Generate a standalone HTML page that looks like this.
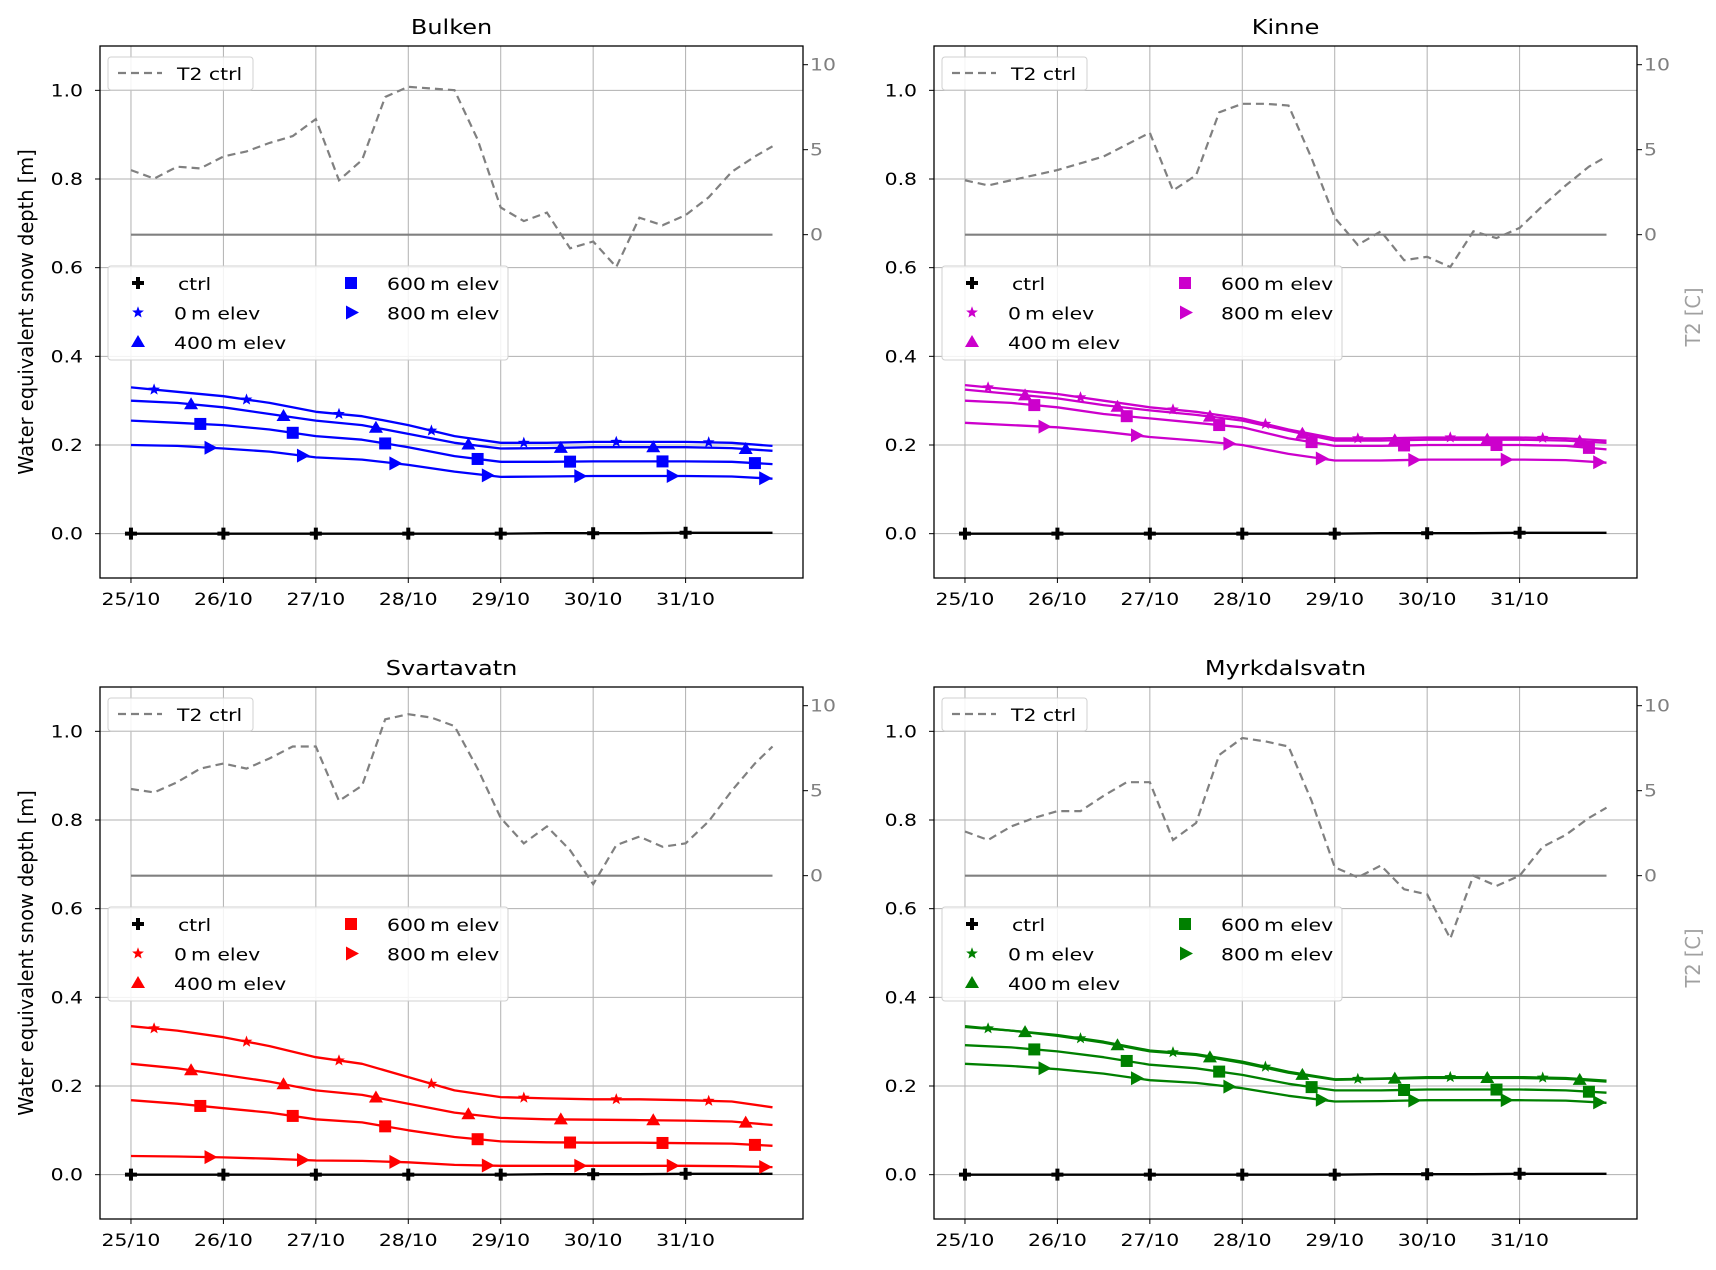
<!DOCTYPE html>
<html><head><meta charset="utf-8">
<style>
body{margin:0;background:#fff;overflow:hidden;}
svg{display:block;font-family:"DejaVu Sans","Liberation Sans",sans-serif;}
</style></head>
<body>
<svg id="fig" width="1716" height="1270" viewBox="0 0 1716 1270" xmlns="http://www.w3.org/2000/svg"></svg>
<script>
// ---- data ----
const panelNames = ["Bulken", "Kinne", "Svartavatn", "Myrkdalsvatn"];
const panelColors = ["#0000ff", "#cc00cc", "#ff0000", "#008000"];
const xTickLabels = ["25/10","26/10","27/10","28/10","29/10","30/10","31/10"];
const yTickLabels = ["0.0","0.2","0.4","0.6","0.8","1.0"];
const t2TickLabels = ["0","5","10"];
const seriesLabels = ["ctrl","0\u2009m elev","400\u2009m elev","600\u2009m elev","800\u2009m elev"];
// snow series sampled every 0.5 day (last sample at 6.94 days)
const snowTimes = [0,0.5,1,1.5,2,2.5,3,3.5,4,4.5,5,5.5,6,6.5,6.94];
const ctrlSnow = [0,0,0,0,0,0,0,0,0,0.001,0.001,0.001,0.002,0.002,0.002];
const bulken0 = [0.33,0.32,0.31,0.295,0.275,0.265,0.245,0.22,0.205,0.205,0.207,0.207,0.207,0.205,0.198];
const bulken400 = [0.30,0.295,0.285,0.27,0.255,0.245,0.225,0.205,0.192,0.193,0.195,0.195,0.195,0.193,0.187];
const bulken600 = [0.255,0.25,0.245,0.235,0.22,0.212,0.195,0.175,0.162,0.162,0.163,0.163,0.163,0.162,0.157];
const bulken800 = [0.20,0.198,0.192,0.185,0.172,0.167,0.155,0.14,0.128,0.129,0.13,0.13,0.13,0.129,0.124];
const kinne0 = [0.335,0.325,0.315,0.30,0.285,0.275,0.26,0.235,0.215,0.215,0.217,0.217,0.217,0.215,0.21];
const kinne400 = [0.325,0.315,0.305,0.29,0.278,0.268,0.255,0.232,0.21,0.21,0.212,0.212,0.212,0.21,0.205];
const kinne600 = [0.30,0.295,0.285,0.27,0.26,0.25,0.24,0.215,0.198,0.198,0.2,0.2,0.2,0.198,0.19];
const kinne800 = [0.25,0.245,0.24,0.23,0.218,0.21,0.2,0.18,0.165,0.165,0.167,0.167,0.167,0.166,0.16];
const svart0 = [0.335,0.325,0.31,0.29,0.265,0.25,0.22,0.19,0.175,0.172,0.17,0.17,0.168,0.165,0.152];
const svart400 = [0.25,0.24,0.225,0.21,0.19,0.18,0.16,0.14,0.128,0.125,0.124,0.123,0.122,0.12,0.112];
const svart600 = [0.168,0.16,0.15,0.14,0.125,0.118,0.1,0.085,0.075,0.073,0.072,0.072,0.071,0.07,0.065];
const svart800 = [0.042,0.041,0.039,0.036,0.032,0.031,0.028,0.022,0.02,0.02,0.02,0.02,0.02,0.019,0.017];
const myrk0 = [0.335,0.325,0.315,0.30,0.28,0.272,0.255,0.232,0.215,0.217,0.22,0.22,0.22,0.218,0.212];
const myrk400 = [0.333,0.325,0.313,0.298,0.278,0.27,0.252,0.23,0.214,0.216,0.218,0.218,0.218,0.216,0.21];
const myrk600 = [0.292,0.287,0.278,0.265,0.248,0.24,0.225,0.205,0.19,0.19,0.192,0.192,0.192,0.19,0.185];
const myrk800 = [0.25,0.245,0.238,0.228,0.213,0.207,0.195,0.178,0.165,0.166,0.168,0.168,0.168,0.167,0.162];
// temperature sampled every 0.25 day (last sample at 6.94 days)
const tempTimes = [0,0.25,0.5,0.75,1,1.25,1.5,1.75,2,2.25,2.5,2.75,3,3.25,3.5,3.75,4,4.25,4.5,4.75,5,5.25,5.5,5.75,6,6.25,6.5,6.75,6.94];
const bulkenT2 = [3.8,3.3,4.0,3.9,4.6,4.9,5.4,5.8,6.8,3.2,4.4,8.1,8.7,8.6,8.5,5.6,1.6,0.8,1.3,-0.8,-0.4,-1.9,1.0,0.55,1.15,2.2,3.7,4.6,5.2];
const kinneT2 = [3.2,2.9,3.2,3.5,3.8,4.2,4.6,5.3,6.0,2.6,3.5,7.2,7.7,7.7,7.6,4.5,1.0,-0.6,0.2,-1.5,-1.3,-1.9,0.2,-0.2,0.4,1.7,2.9,4.0,4.6];
const svartT2 = [5.1,4.9,5.5,6.3,6.6,6.3,6.9,7.6,7.6,4.4,5.3,9.2,9.5,9.3,8.8,6.3,3.4,1.9,2.9,1.5,-0.5,1.8,2.3,1.7,1.9,3.2,5.0,6.6,7.6];
const myrkT2 = [2.6,2.1,2.9,3.4,3.8,3.8,4.7,5.5,5.5,2.1,3.1,7.1,8.1,7.9,7.6,4.4,0.5,-0.1,0.6,-0.8,-1.1,-3.7,0,-0.6,0.0,1.7,2.4,3.4,4.0];
const markerDays = [0,1,2,3,4,5,6];
const markerOffsets = [0,0.25,0.65,0.75,0.85];

const panelSeries = [
  [ctrlSnow,bulken0,bulken400,bulken600,bulken800],
  [ctrlSnow,kinne0,kinne400,kinne600,kinne800],
  [ctrlSnow,svart0,svart400,svart600,svart800],
  [ctrlSnow,myrk0,myrk400,myrk600,myrk800]
];
const panelT2 = [bulkenT2,kinneT2,svartT2,myrkT2];

// ---- drawing ----
const NS = "http://www.w3.org/2000/svg";
const fig = document.getElementById("fig");
const SX = 1.2;
function el(tag, attrs, parent, text){
  const e = document.createElementNS(NS, tag);
  for (const k in attrs) e.setAttribute(k, attrs[k]);
  if (text !== undefined) e.textContent = text;
  (parent||fig).appendChild(e);
  return e;
}
function htext(x, y, str, size, fill, anchor, parent){
  return el("text",{x:(x/SX).toFixed(1),y:y,transform:`scale(${SX},1)`,"text-anchor":anchor||"start","font-size":size,fill:fill},parent,str);
}
function interp(ts, vs, t){
  for (let i=0;i<ts.length-1;i++){
    if (t<=ts[i+1]) { const f=(t-ts[i])/(ts[i+1]-ts[i]); return vs[i]+f*(vs[i+1]-vs[i]); }
  }
  return vs[vs.length-1];
}
function markerPath(kind, x, y){
  const s=6;
  if (kind===0) return `M${x-2} ${y-6}h4v4h4v4h-4v4h-4v-4h-4v-4h4z`;
  if (kind===1){
    let d=""; for(let i=0;i<10;i++){const r=i%2?2.6:6.2;const a=-Math.PI/2+i*Math.PI/5;d+=(i?"L":"M")+(x+r*Math.cos(a)).toFixed(1)+" "+(y+r*Math.sin(a)).toFixed(1);} return d+"Z";
  }
  if (kind===2) return `M${x} ${y-s-1}L${x+s+1} ${y+s-1}L${x-s-1} ${y+s-1}Z`;
  if (kind===3) return `M${x-s} ${y-s}h${2*s}v${2*s}h${-2*s}z`;
  return `M${x-s+1} ${y-s-1}L${x+s+2} ${y}L${x-s+1} ${y+s+1}Z`;
}

const origins = [[100,46],[934,46],[100,687],[934,687]];
const PW = 703, PH = 532;
const XMIN=-0.335, XMAX=7.27, YMIN=-0.1, YMAX=1.1, TMIN=-20.2, TMAX=11.1;

panelNames.forEach((name, p)=>{
  const [ox, oy] = origins[p];
  const col = panelColors[p];
  const g = el("g", {});
  const xs = t => ox + (t-XMIN)/(XMAX-XMIN)*PW;
  const ys = v => oy + (YMAX-v)/(YMAX-YMIN)*PH;
  const ts = v => oy + (TMAX-v)/(TMAX-TMIN)*PH;

  const title = htext(ox+PW/2, oy-12, name, 20, "#000", "middle", g);
  
  

  const grid = el("g",{stroke:"#b0b0b0","stroke-width":"1"},g);
  
  
  xTickLabels.forEach((lab,i)=>{
    el("line",{x1:xs(i),x2:xs(i),y1:oy,y2:oy+PH},grid);
    const tl = htext(xs(i), oy+PH+27, lab, 17, "#000", "middle", g);
    
    
    el("line",{x1:xs(i),x2:xs(i),y1:oy+PH,y2:oy+PH+5,stroke:"#000"},g);
  });
  yTickLabels.forEach(lab=>{
    const v=parseFloat(lab);
    el("line",{x1:ox,x2:ox+PW,y1:ys(v),y2:ys(v)},grid);
    el("line",{x1:ox-5,x2:ox,y1:ys(v),y2:ys(v),stroke:"#000"},g);
    const tl = htext(ox-17, ys(v)+6, lab, 17, "#000", "end", g);
    
    
  });
  t2TickLabels.forEach(lab=>{
    const v=parseFloat(lab);
    el("line",{x1:ox+PW,x2:ox+PW+5,y1:ts(v),y2:ts(v),stroke:"#000"},g);
    const tl = htext(ox+PW+7, ts(v)+6, lab, 17, "#808080", "start", g);
    
    
  });

  el("line",{x1:xs(0),x2:xs(tempTimes[tempTimes.length-1]),y1:ts(0),y2:ts(0),stroke:"#808080","stroke-width":"2.2"},g);
  const tpts = tempTimes.map((t,i)=>xs(t).toFixed(1)+","+ts(panelT2[p][i]).toFixed(1)).join(" ");
  const tl = el("polyline",{points:tpts,fill:"none",stroke:"#808080","stroke-width":"2.2","stroke-dasharray":"8,5"},g);
  
  

  panelSeries[p].forEach((vals, s)=>{
    const c = s===0 ? "#000" : col;
    const sg = el("g",{},g);
    
    
    const pts = snowTimes.map((t,i)=>xs(t).toFixed(1)+","+ys(vals[i]).toFixed(1)).join(" ");
    el("polyline",{points:pts,fill:"none",stroke:c,"stroke-width":"2.3","stroke-linejoin":"round"},sg);
    markerDays.forEach(d=>{
      const t = d+markerOffsets[s];
      const m = el("path",{d:markerPath(s,xs(t),ys(interp(snowTimes,vals,t))),fill:c},sg);
      
      
    });
  });

  el("rect",{x:ox,y:oy,width:PW,height:PH,fill:"none",stroke:"#000","stroke-width":"1.3"},g);

  const lg1 = el("g",{},g);
  
  
  el("rect",{x:ox+8,y:oy+11,width:145,height:33,rx:3,fill:"#fff","fill-opacity":"0.85",stroke:"#d0d0d0"},lg1);
  el("line",{x1:ox+18,x2:ox+62,y1:oy+27,y2:oy+27,stroke:"#808080","stroke-width":"2.2","stroke-dasharray":"8,5"},lg1);
  htext(ox+77, oy+34, "T2 ctrl", 17, "#000", "start", lg1);

  const lg = el("g",{},g);
  
  
  el("rect",{x:ox+8,y:oy+220,width:400,height:94,rx:3,fill:"#fff","fill-opacity":"0.85",stroke:"#d0d0d0"},lg);
  const pos = [[0,0],[0,1],[0,2],[1,0],[1,1]];
  seriesLabels.forEach((lab,s)=>{
    const [cc,rr]=pos[s];
    const mx = ox+38+cc*213, my = oy+237+rr*29.5;
    el("path",{d:markerPath(s,mx,my),fill:s===0?"#000":col},lg);
    const t = htext(mx+(s===0?40:36), my+7, lab, 17, "#000", "start", lg);
    
    
  });

  if (p%2===0){
    const yl = el("text",{x:0,y:0,transform:`translate(33,${oy+PH/2}) rotate(-90) scale(1.08,1.15)`,"text-anchor":"middle","font-size":"18",fill:"#000"},g,"Water equivalent snow depth [m]");
    
    
  } else {
    const yl = el("text",{x:0,y:0,transform:`translate(1700,${oy+271}) rotate(-90) scale(1.08,1.15)`,"text-anchor":"middle","font-size":"18",fill:"#a0a0a0"},g,"T2 [C]");
    
    
  }
});
</script>
</body></html>
